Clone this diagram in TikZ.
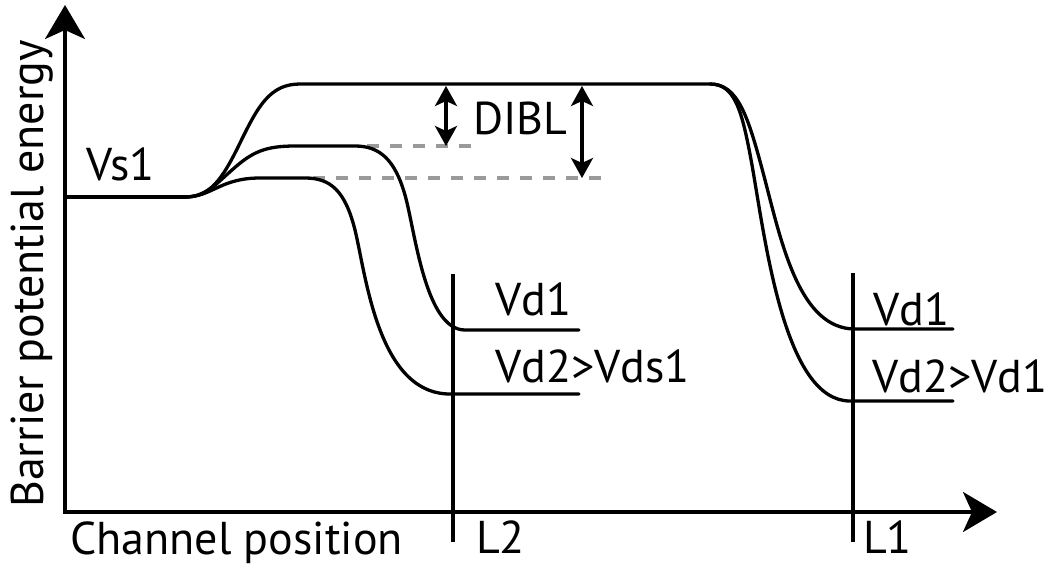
\documentclass[tikz,border=0pt]{standalone}
\usepackage{fontspec}
\setmainfont{PT Sans}
\usetikzlibrary{arrows.meta}
\definecolor{guidegray}{HTML}{9A9A9A}
\begin{document}
\begin{tikzpicture}[x=1pt,y=-1pt,
  curve/.style={line width=3.3pt, line cap=round, line join=round},
  axis/.style={line width=3.3pt, -{Stealth[length=34pt,width=40pt,inset=9pt]}},
  marker/.style={line width=3.3pt},
  guide/.style={line width=3.5pt, draw=guidegray, dash pattern=on 12pt off 11pt},
  dibl/.style={line width=3.3pt, {Stealth[length=20pt,width=22pt,inset=5pt]}-{Stealth[length=20pt,width=22pt,inset=5pt]}},
  lbl/.style={inner sep=0pt, anchor=base west, font=\fontsize{46}{54}\selectfont}]
\useasboundingbox (0,0) rectangle (1053,568);
% key coordinates
\coordinate (O) at (65,512);
\coordinate (ytip) at (65,5);
\coordinate (xtip) at (997,512);
\coordinate (s0) at (65,197);
\coordinate (s1) at (185,197);
% guides
\coordinate (g1a) at (367,146); \coordinate (g1b) at (473,146);
\coordinate (g2a) at (313,178); \coordinate (g2b) at (608,178);
\draw[guide] (g1a) -- (g1b);
\draw[guide] (g2a) -- (g2b);
% axes
\draw[axis] ([yshift=1.6pt]O) -- (ytip);
\draw[axis] ([xshift=-1.6pt]O) -- (xtip);
% marker lines
\coordinate (m2a) at (453,274); \coordinate (m2b) at (453,542);
\coordinate (m1a) at (853,273); \coordinate (m1b) at (853,542);
\draw[marker] (m2a) -- (m2b);
\draw[marker] (m1a) -- (m1b);
% source level
\draw[curve] (s0) -- (s1);
% top curve (long channel)
\coordinate (t1) at (300,84);
\coordinate (t2) at (710,84);
\coordinate (r1) at (855,329); \coordinate (r1e) at (953,329);
\coordinate (r2) at (850,401); \coordinate (r2e) at (953,401);
\draw[curve] (s1) .. controls (210,197) and (222,180) .. (240,143)
  .. controls (258,106) and (270,84) .. (t1) -- (t2)
  .. controls (738,84) and (748,115) .. (765,180)
  .. controls (782,245) and (800,329) .. (r1) -- (r1e);
\draw[curve] (t2) .. controls (735,84) and (742,110) .. (752,165)
  .. controls (766,245) and (785,401) .. (r2) -- (r2e);
% middle curve (short channel, Vd1)
\coordinate (p1) at (295,146); \coordinate (p2) at (355,146);
\coordinate (q1) at (465,330); \coordinate (q1e) at (579,330);
\draw[curve] (s1) .. controls (205,197) and (215,185) .. (232,170)
  .. controls (252,152) and (265,146) .. (p1) -- (p2)
  .. controls (380,146) and (395,160) .. (405,195)
  .. controls (415,230) and (425,330) .. (q1) -- (q1e);
% bottom curve (short channel, Vd2)
\coordinate (b1) at (260,178); \coordinate (b2) at (305,178);
\coordinate (q2) at (450,394); \coordinate (q2e) at (579,394);
\draw[curve] (s1) .. controls (212,197) and (220,178) .. (b1) -- (b2)
  .. controls (330,178) and (345,190) .. (355,230)
  .. controls (366,275) and (378,394) .. (q2) -- (q2e);
% DIBL arrows
\coordinate (d1a) at (446,86); \coordinate (d1b) at (446,146);
\coordinate (d2a) at (582,86); \coordinate (d2b) at (582,178);
\draw[dibl] (d1a) -- (d1b);
\draw[dibl] (d2a) -- (d2b);
% labels
\node[lbl] (vs1) at (86,180) {Vs1};
\node[lbl] (dibltxt) at (473,134) {DIBL};
\node[lbl] (vd1l) at (495,315) {Vd1};
\node[lbl] (vd2l) at (495,382) {Vd2>Vds1};
\node[lbl] (vd1r) at (873,325) {Vd1};
\node[lbl] (vd2r) at (872,392) {Vd2>Vd1};
\node[lbl] (l2) at (476,553) {L2};
\node[lbl] (l1) at (863,553) {L1};
\node[lbl] (xlab) at (70,554) {Channel position};
\node[lbl, rotate=90] (ylab) at (43,508) {Barrier potential energy};
\end{tikzpicture}
\end{document}
